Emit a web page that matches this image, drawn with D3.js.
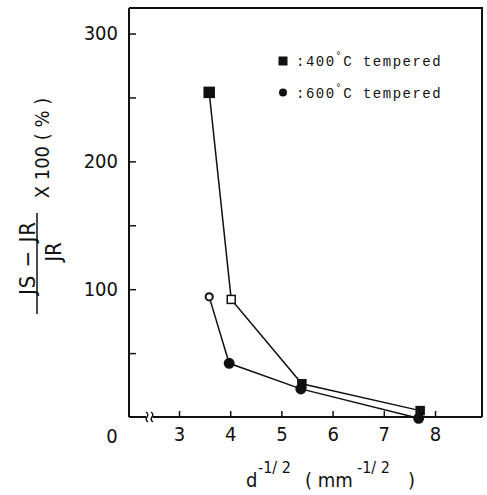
<!DOCTYPE html>
<html>
<head>
<meta charset="utf-8">
<script src="https://cdn.jsdelivr.net/npm/d3@7"></script>
<style>
  body { margin: 0; background: #fff; }
  svg text { fill: #111; }
</style>
</head>
<body>
<svg id="chart" width="487" height="495"></svg>
<script>
// data
var xTicks = [3, 4, 5, 6, 7, 8];
var yTicks = [50, 100, 150, 200, 250, 300];
var yLabels = [100, 200, 300];
var dInv = [3.59, 4.02, 5.40, 7.71];          // d^-1/2 of the 400C points
var tempered400 = [254, 92, 26, 5];
var dInv600 = [3.59, 3.98, 5.38, 7.68];
var tempered600 = [94, 42, 22, -1];
var legendNames = [':400', ':600'];

var svg = d3.select('#chart');
var pl = 129, pr = 482, pt = 8, pb = 417;

var x = d3.scaleLinear().domain([3, 8]).range([179, 435]);
var y = d3.scaleLinear().domain([0, 320]).range([pb, pt]);

var font = '"DejaVu Sans Condensed", "DejaVu Sans", sans-serif';

// frame (top + right)
svg.append('path')
  .attr('d', 'M' + pl + ',' + pt + 'H' + pr + 'V' + pb)
  .attr('fill', 'none').attr('stroke', '#111').attr('stroke-width', 2);

// y axis, ticks pointing in
var yAxis = svg.append('g')
  .attr('transform', 'translate(' + pl + ',0)')
  .call(d3.axisLeft(y).tickValues(yTicks).tickSize(-7).tickPadding(11)
    .tickFormat(function(d) { return yLabels.indexOf(d) >= 0 ? d : ''; }));
yAxis.select('.domain').remove();
yAxis.append('line').attr('x1', 0).attr('x2', 0).attr('y1', pt).attr('y2', pb)
  .attr('stroke', '#111').attr('stroke-width', 2);

// x axis, with a break near the origin
var xAxis = svg.append('g')
  .attr('transform', 'translate(0,' + pb + ')')
  .call(d3.axisBottom(x).tickValues(xTicks).tickSize(-6).tickPadding(10)
    .tickFormat(d3.format('d')));
xAxis.select('.domain').remove();
xAxis.append('line').attr('x1', pl).attr('x2', 146).attr('stroke', '#111').attr('stroke-width', 2);
xAxis.append('line').attr('x1', 153).attr('x2', pr).attr('stroke', '#111').attr('stroke-width', 2);
[146, 151].forEach(function(bx) {
  xAxis.append('path')
    .attr('d', 'M' + bx + ',-5 q3,2 1,5 q-2,3 1,5')
    .attr('fill', 'none').attr('stroke', '#111').attr('stroke-width', 1.4);
});
xAxis.append('text').attr('x', 112).attr('y', 26).attr('text-anchor', 'middle').text('0');

svg.selectAll('.tick line').attr('stroke', '#111').attr('stroke-width', 1.5);
svg.selectAll('.tick text, g > text')
  .attr('font-family', font).attr('font-size', 20).attr('fill', '#111');

// series lines
var line = d3.line().x(function(d) { return x(d[0]); }).y(function(d) { return y(d[1]); });
var s400 = d3.zip(dInv, tempered400);
var s600 = d3.zip(dInv600, tempered600);

[s400, s600].forEach(function(s) {
  svg.append('path').datum(s).attr('d', line)
    .attr('fill', 'none').attr('stroke', '#111').attr('stroke-width', 1.5);
});

svg.selectAll('rect.sq').data(s400).enter().append('rect')
  .attr('class', 'sq')
  .attr('x', function(d, i) { return x(d[0]) - (i === 0 ? 5 : 4); })
  .attr('y', function(d, i) { return y(d[1]) - (i === 0 ? 5 : 4); })
  .attr('width', function(d, i) { return i === 0 ? 10 : 8; })
  .attr('height', function(d, i) { return i === 0 ? 10 : 8; })
  .attr('fill', function(d, i) { return i === 1 ? '#fff' : '#111'; })
  .attr('stroke', '#111').attr('stroke-width', 1.5);

svg.selectAll('circle.ci').data(s600).enter().append('circle')
  .attr('class', 'ci')
  .attr('cx', function(d) { return x(d[0]); })
  .attr('cy', function(d) { return y(d[1]); })
  .attr('r', function(d, i) { return i === 0 ? 3.6 : 4.5; })
  .attr('fill', function(d, i) { return i === 0 ? '#fff' : '#111'; })
  .attr('stroke', '#111').attr('stroke-width', 2);

// legend
var mono = '"Liberation Mono", "DejaVu Sans Mono", monospace';
var leg = svg.selectAll('g.leg').data(legendNames).enter().append('g')
  .attr('class', 'leg')
  .attr('transform', function(d, i) { return 'translate(283,' + (61 + i * 31.5) + ')'; });
leg.each(function(d, i) {
  var g = d3.select(this);
  if (i === 0) g.append('rect').attr('x', -4.5).attr('y', -4.5).attr('width', 9).attr('height', 9).attr('fill', '#111');
  else g.append('circle').attr('r', 4).attr('fill', '#111');
  var t = g.append('text').attr('x', 13).attr('y', 5)
    .attr('font-family', mono).attr('font-size', 14).attr('letter-spacing', 1.5);
  t.append('tspan').text(d);
  t.append('tspan').attr('font-size', 10).attr('dy', -7).text('°');
  t.append('tspan').attr('dy', 7).text('C tempered');
});

// x title
var xt = svg.append('text').attr('font-family', font).attr('font-size', 20).attr('y', 487);
xt.append('tspan').attr('x', 246).text('d');
xt.append('tspan').attr('x', 258).attr('dy', -14).attr('font-size', 16).text('-1/ 2');
xt.append('tspan').attr('x', 305).attr('dy', 14).text('( mm');
xt.append('tspan').attr('x', 357).attr('dy', -14).attr('font-size', 16).text('-1/ 2');
xt.append('tspan').attr('x', 408).attr('dy', 14).text(')');

// y title: fraction (Js - JR) / JR x 100 (%)
var yt = svg.append('g');
yt.append('text').attr('transform', 'translate(35,258) rotate(-90)')
  .attr('text-anchor', 'middle').attr('font-family', font).attr('font-size', 22)
  .attr('letter-spacing', 1).text('JS − JR');
yt.append('line').attr('x1', 37).attr('x2', 37).attr('y1', 213).attr('y2', 314)
  .attr('stroke', '#111').attr('stroke-width', 1.5);
yt.append('text').attr('transform', 'translate(61,252) rotate(-90)')
  .attr('text-anchor', 'middle').attr('font-family', font).attr('font-size', 22)
  .text('JR');
yt.append('text').attr('transform', 'translate(49,148) rotate(-90)')
  .attr('text-anchor', 'middle').attr('font-family', font).attr('font-size', 20)
  .text('X 100 ( % )');
</script>
</body>
</html>
